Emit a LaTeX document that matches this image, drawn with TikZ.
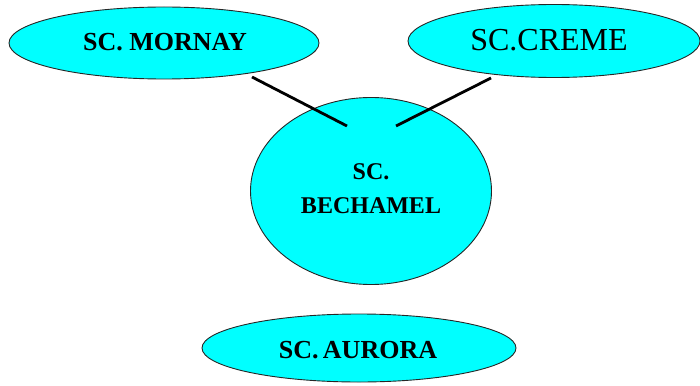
\documentclass[tikz,border=0pt]{standalone}
\usepackage{fontspec}
\setmainfont{Liberation Serif}
\usetikzlibrary{shapes.geometric}
\definecolor{sauce}{RGB}{0,255,255}
\tikzset{
  sauceshape/.style={ellipse, draw=black!85, line width=0.9pt, fill=sauce, inner sep=0pt},
  saucename/.style={font=\fontsize{26}{28}\selectfont\bfseries, inner sep=0pt, align=center},
  link/.style={line width=2.8pt, black}
}
\begin{document}
\begin{tikzpicture}[x=1pt, y=-1pt]
  \useasboundingbox (0,0) rectangle (700,385);
  % sauce ellipses
  \node[sauceshape, minimum width=310pt, minimum height=72pt] (mornay) at (164,43) {};
  \node[sauceshape, minimum width=292pt, minimum height=73pt] (creme) at (554,41) {};
  \node[sauceshape, minimum width=241pt, minimum height=187pt] (bechamel) at (371,191) {};
  \node[sauceshape, minimum width=314pt, minimum height=68pt] (aurora) at (359,348) {};
  % names
  \node[saucename] (tmornay) at (165,42) {SC. MORNAY};
  \node[font=\fontsize{32}{34}\selectfont, inner sep=0pt] (tcreme) at (549,40) {SC.CREME};
  \node[saucename, font=\fontsize{24}{34}\selectfont\bfseries] (tbechamel) at (371,189) {SC.\\BECHAMEL};
  \node[saucename] (taurora) at (358,350) {SC.\,AURORA};
  % connectors
  \coordinate (m1) at (252,77);
  \coordinate (m2) at (347,126);
  \coordinate (c1) at (491,78);
  \coordinate (c2) at (396,126);
  \draw[link] (m1) -- (m2);
  \draw[link] (c1) -- (c2);
\end{tikzpicture}
\end{document}
